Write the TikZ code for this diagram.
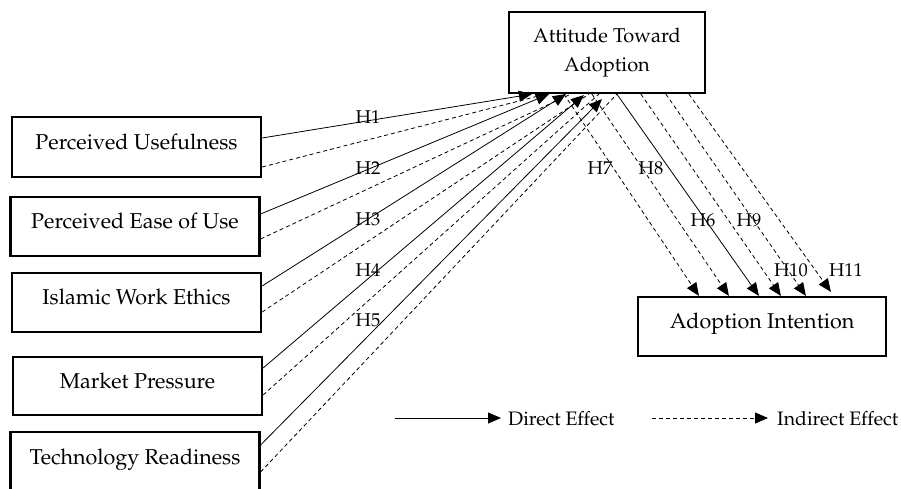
\documentclass[tikz,border=0pt]{standalone}
\usepackage[T1]{fontenc}
\usepackage{mathpazo}
\usetikzlibrary{arrows.meta}
\begin{document}
\begin{tikzpicture}[x=1pt,y=-1pt,
  frame/.style={draw, line width=2.2pt, inner sep=0pt},
  box/.style={frame, minimum width=249pt, minimum height=60pt,
    font=\fontsize{21.5}{24}\selectfont, text height=0.7em, text depth=0.25em},
  hyp/.style={font=\fontsize{18.5}{20}\selectfont, inner sep=0pt},
  leg/.style={font=\fontsize{19.5}{22}\selectfont, inner sep=0pt, anchor=west, text height=0.7em, text depth=0.25em},
  dir/.style={line width=0.8pt, -{Triangle[length=13pt,width=11pt]}},
  ind/.style={line width=0.8pt, dash pattern=on 4pt off 3pt},
  indar/.style={ind, -{Triangle[length=13pt,width=11pt]}}]
\useasboundingbox (0,0) rectangle (901,489);
% boxes
\node[frame, minimum width=196pt, minimum height=81pt, align=center,
  font=\fontsize{20}{24}\selectfont] (att) at (607,52.5) {Attitude Toward\\[5pt]Adoption};
\node[box] (pu) at (136.5,147) {Perceived Usefulness};
\node[box, minimum height=59pt] (peu) at (135,226.5) {Perceived Ease of Use};
\node[box, minimum height=59pt] (iwe) at (136.5,302.5) {Islamic Work Ethics};
\node[box, minimum height=58pt] (mp) at (137.5,386) {Market Pressure};
\node[box] (tr) at (135,462) {Technology Readiness};
\node[box, minimum width=248pt, minimum height=59pt] (ai) at (762,326.5) {Adoption Intention};
% left to attitude
\draw[dir] ([yshift=9pt]pu.east) -- ([xshift=24pt]att.south west);
\draw[ind] ([yshift=-20pt]pu.east) -- ([xshift=38pt]att.south west);
\draw[dir] ([yshift=12.5pt]peu.east) -- ([xshift=41pt]att.south west);
\draw[ind] ([yshift=-12.5pt]peu.east) -- ([xshift=63pt]att.south west);
\draw[dir] ([yshift=16.5pt]iwe.east) -- ([xshift=58pt]att.south west);
\draw[ind] ([yshift=-9.5pt]iwe.east) -- ([xshift=81pt]att.south west);
\draw[dir] ([yshift=18pt]mp.east) -- ([xshift=76pt,yshift=-1pt]att.south west);
\draw[ind] ([yshift=-9pt]mp.east) -- ([xshift=91pt]att.south west);
\draw[dir] ([yshift=17pt]tr.east) -- ([xshift=94pt,yshift=-5pt]att.south west);
\draw[ind] ([yshift=-10pt]tr.east) -- ([xshift=109pt]att.south west);
% attitude to adoption intention
\draw[indar] ([xshift=56pt]att.south west) -- ([xshift=62pt]ai.north west);
\draw[indar] ([xshift=84pt]att.south west) -- ([xshift=92pt]ai.north west);
\draw[dir] ([xshift=109pt]att.south west) -- ([xshift=122pt]ai.north west);
\draw[indar] ([xshift=133pt]att.south west) -- ([xshift=144pt]ai.north west);
\draw[indar] ([xshift=158pt]att.south west) -- ([xshift=169pt]ai.north west);
\draw[indar] ([xshift=181pt]att.south west) -- ([xshift=194pt,yshift=4pt]ai.north west);
% labels
\node[hyp] (h1) at (368,117) {H1};
\node[hyp] (h2) at (368,168) {H2};
\node[hyp] (h3) at (368,219) {H3};
\node[hyp] (h4) at (368,270) {H4};
\node[hyp] (h5) at (368,320) {H5};
\node[hyp] (h7) at (600,168) {H7};
\node[hyp] (h8) at (651,168) {H8};
\node[hyp] (h6) at (703,220) {H6};
\node[hyp] (h9) at (749,220) {H9};
\node[hyp] (h10) at (791,270) {H10};
\node[hyp] (h11) at (846,270) {H11};
% legend
\coordinate (ds) at (395,418);
\node[leg] (dt) at (508,423) {Direct Effect};
\draw[dir] (ds) -- ([xshift=-7pt]ds -| dt.west);
\coordinate (is) at (652,418);
\node[leg] (it) at (777,423) {Indirect Effect};
\draw[indar] (is) -- ([xshift=-9pt]is -| it.west);
\end{tikzpicture}
\end{document}
